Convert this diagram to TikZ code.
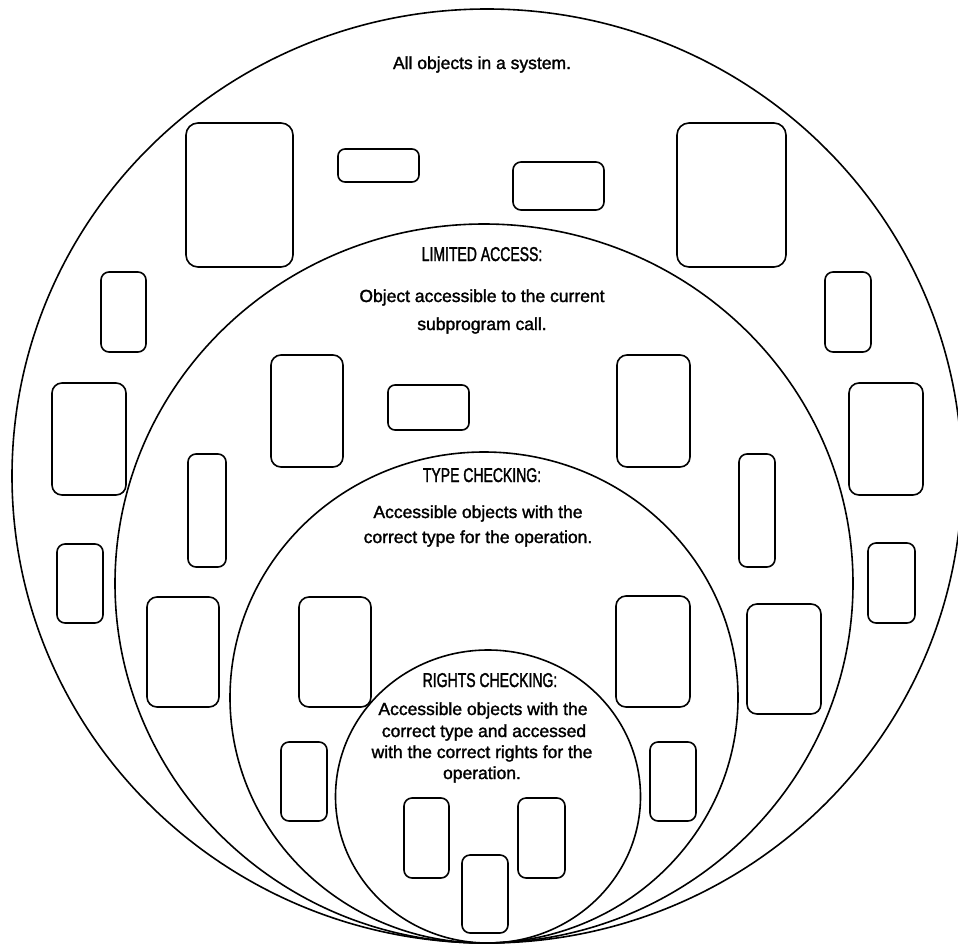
\documentclass[tikz,border=0pt]{standalone}
\usepackage{fontspec}
\setmainfont[FakeBold=1.6]{Liberation Sans}
\newfontfamily\headfont[FakeStretch=0.7,FakeBold=1.6]{Liberation Sans}
\usetikzlibrary{shapes.geometric,fit}

\begin{document}
\begin{tikzpicture}[x=1pt,y=-1pt,
  ring/.style={draw, ellipse, inner sep=0pt, line width=1.6pt},
  obj/.style={draw, rectangle, rounded corners=#1, inner sep=0pt, line width=1.6pt},
  obj/.default=9pt,
  body text/.style={font=\fontsize{17.5}{21}\selectfont, anchor=base, inner sep=0pt},
  head text/.style={font=\headfont\fontsize{20}{24}\selectfont, anchor=base, inner sep=0pt}
]
\useasboundingbox (0,0) rectangle (958,945);

% nested access sets, all touching at the bottom
\node[ring, minimum width=950pt, minimum height=934pt] (all)     at (487,476)   {};
\node[ring, minimum width=738pt, minimum height=719pt] (limited) at (484,583.5) {};
\node[ring, minimum width=508pt, minimum height=491pt] (type)    at (484,697.5) {};
\node[ring, minimum width=305pt, minimum height=293pt] (rights)  at (488,796.5) {};

% objects outside the limited-access set
\node[obj=12pt, fit={(186,123) (293,267)}] (o1) {};
\node[obj=7pt,  fit={(338,149) (419,182)}] (o2) {};
\node[obj=8pt,  fit={(513,162) (604,210)}] (o3) {};
\node[obj=12pt, fit={(677,123) (786,267)}] (o4) {};
\node[obj=8pt,  fit={(101,272) (146,352)}] (o5) {};
\node[obj=8pt,  fit={(825,272) (871,352)}] (o6) {};
\node[obj=10pt, fit={(52,383) (126,495)}]  (o7) {};
\node[obj=10pt, fit={(849,383) (923,495)}] (o8) {};
\node[obj=8pt,  fit={(57,544) (103,623)}]  (o9) {};
\node[obj=8pt,  fit={(868,543) (915,623)}] (o10) {};

% objects accessible to the call, wrong type
\node[obj=10pt, fit={(271,355) (343,467)}] (l1) {};
\node[obj=7pt,  fit={(388,385) (469,430)}] (l2) {};
\node[obj=10pt, fit={(617,355) (690,467)}] (l3) {};
\node[obj=8pt,  fit={(188,454) (226,567)}] (l4) {};
\node[obj=8pt,  fit={(739,454) (775,567)}] (l5) {};
\node[obj=10pt, fit={(147,597) (219,707)}] (l6) {};
\node[obj=10pt, fit={(747,604) (821,714)}] (l7) {};

% objects of the right type, wrong rights
\node[obj=10pt, fit={(299,597) (371,707)}] (t1) {};
\node[obj=10pt, fit={(616,596) (690,707)}] (t2) {};
\node[obj=8pt,  fit={(281,742) (327,821)}] (t3) {};
\node[obj=8pt,  fit={(650,742) (696,821)}] (t4) {};

% objects passing the rights check
\node[obj=8pt, fit={(404,798) (449,878)}] (r1) {};
\node[obj=8pt, fit={(518,798) (565,878)}] (r2) {};
\node[obj=8pt, fit={(462,855) (508,933)}] (r3) {};

% captions
\node[body text] (cap0) at (482,69) {All objects in a system.};

\node[head text] (cap1)  at (482,261) {LIMITED ACCESS:};
\node[body text] (cap1a) at (482,302) {Object accessible to the current};
\node[body text] (cap1b) at (482,330) {subprogram call.};

\node[head text] (cap2)  at (482,482) {TYPE CHECKING:};
\node[body text] (cap2a) at (478,518) {Accessible objects with the};
\node[body text] (cap2b) at (478,543) {correct type for the operation.};

\node[head text] (cap3)  at (490,687) {RIGHTS CHECKING:};
\node[body text] (cap3a) at (483,715) {Accessible objects with the};
\node[body text] (cap3b) at (484,737) {correct type and accessed};
\node[body text] (cap3c) at (482,758) {with the correct rights for the};
\node[body text] (cap3d) at (482,779) {operation.};
\end{tikzpicture}
\end{document}
